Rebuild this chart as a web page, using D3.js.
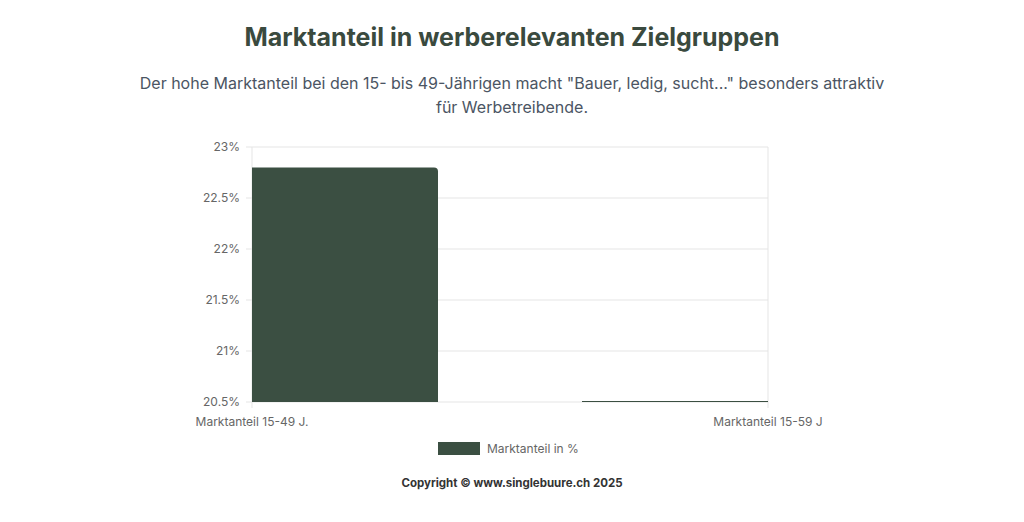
<!DOCTYPE html>
<meta charset="utf-8">
<html>
<head>
<script src="https://d3js.org/d3.v7.min.js"></script>
<style>
  body { margin: 0; background: #fff; font-family: Inter, "Noto Sans", sans-serif; }
  #chart { width: 1024px; height: 522px; }
</style>
</head>
<body>
<div id="chart"></div>
<script>
  // data
  const categories = ["Marktanteil 15-49 J.", "Marktanteil 15-59 J"];
  const values = [22.8, 20.5];
  const yTicks = [20.5, 21, 21.5, 22, 22.5, 23];
  const seriesName = "Marktanteil in %";

  const W = 1024, H = 522;
  const margin = {top: 147, right: 256, bottom: 120, left: 252},
      width = W - margin.left - margin.right,
      height = H - margin.top - margin.bottom;
  const barColor = "#3b4f42";

  const root = d3.select("#chart").append("svg")
    .attr("width", W).attr("height", H);

  root.append("text").attr("x", 512).attr("y", 46).attr("text-anchor", "middle")
    .attr("font-size", 25).attr("font-weight", 700).attr("fill", "#3a4a3e")
    .text("Marktanteil in werberelevanten Zielgruppen");
  root.append("text").attr("x", 512).attr("y", 89).attr("text-anchor", "middle")
    .attr("font-size", 16).attr("fill", "#4b5563")
    .text('Der hohe Marktanteil bei den 15- bis 49-Jährigen macht "Bauer, ledig, sucht..." besonders attraktiv');
  root.append("text").attr("x", 512).attr("y", 113).attr("text-anchor", "middle")
    .attr("font-size", 16).attr("fill", "#4b5563")
    .text("für Werbetreibende.");

  const svg = root.append("g").attr("transform", `translate(${margin.left},${margin.top})`);

  const x = d3.scalePoint().domain(categories).range([0, width]);
  const y = d3.scaleLinear().domain([20.5, 23]).range([height, 0]);
  const barW = 186 * 2;

  // grid
  svg.append("g").selectAll("line").data(yTicks).join("line")
    .attr("x1", -6).attr("x2", width)
    .attr("y1", d => y(d)).attr("y2", d => y(d))
    .attr("stroke", "#e5e5e5");
  svg.append("g").selectAll("line").data(categories).join("line")
    .attr("x1", d => x(d)).attr("x2", d => x(d))
    .attr("y1", 0).attr("y2", height + 6)
    .attr("stroke", "#e5e5e5");

  svg.append("clipPath").attr("id", "clip").append("rect")
    .attr("width", width).attr("height", height);

  svg.append("g").attr("clip-path", "url(#clip)")
    .selectAll("path").data(values).join("path")
    .attr("fill", barColor)
    .attr("d", (d, i) => {
      const x0 = x(categories[i]) - barW / 2, x1 = x0 + barW;
      const y0 = y(d), y1 = height, r = Math.min(4, y1 - y0);
      if (y1 - y0 < 1) return `M${x0},${y1 - 1}H${x1}V${y1}H${x0}Z`;
      return `M${x0},${y1}V${y0 + r}Q${x0},${y0} ${x0 + r},${y0}H${x1 - r}Q${x1},${y0} ${x1},${y0 + r}V${y1}Z`;
    });

  // y axis labels
  svg.append("g").selectAll("text").data(yTicks).join("text")
    .attr("x", -12).attr("y", d => y(d)).attr("dy", "0.35em")
    .attr("text-anchor", "end").attr("font-size", 12).attr("fill", "#666")
    .text(d => d3.format("~g")(d) + "%");

  // x axis labels
  svg.append("g").selectAll("text").data(categories).join("text")
    .attr("x", d => x(d)).attr("y", height + 24)
    .attr("text-anchor", "middle").attr("font-size", 12).attr("fill", "#666")
    .text(d => d);

  // legend
  root.append("rect").attr("x", 438).attr("y", 442).attr("width", 42).attr("height", 13)
    .attr("fill", barColor);
  root.append("text").attr("x", 487).attr("y", 452.5).attr("font-size", 12).attr("fill", "#666")
    .text(seriesName);

  root.append("text").attr("x", 512).attr("y", 487).attr("text-anchor", "middle")
    .attr("font-size", 11.5).attr("font-weight", 700).attr("fill", "#333")
    .text("Copyright © www.singlebuure.ch 2025");
</script>
</body>
</html>
